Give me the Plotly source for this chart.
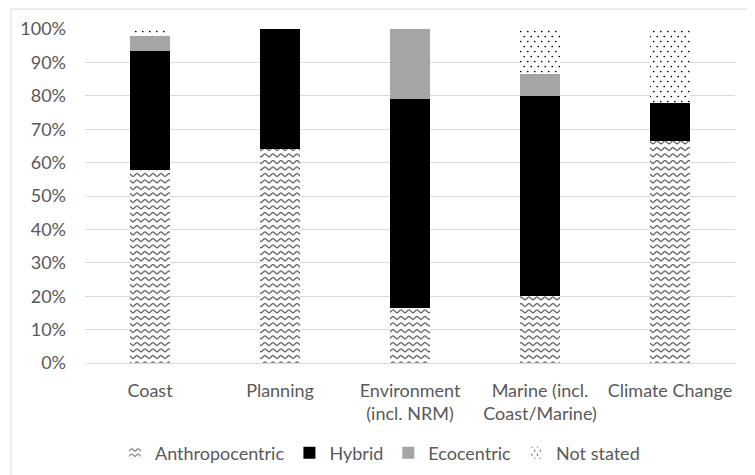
import plotly.graph_objects as go

categories = ["Coast", "Planning", "Environment<br>(incl. NRM)",
              "Marine (incl.<br>Coast/Marine)", "Climate Change"]
anthropocentric = [0.578, 0.640, 0.166, 0.200, 0.665]
hybrid = [0.357, 0.360, 0.625, 0.598, 0.113]
ecocentric = [0.045, 0.0, 0.209, 0.066, 0.0]
not_stated = [0.020, 0.0, 0.0, 0.136, 0.222]

FONT = "Lato"
TXT = "#595959"
FS = 18

fig = go.Figure()
fig.add_trace(go.Bar(
    x=categories, y=anthropocentric, name="Anthropocentric", uid="anthro",
    marker=dict(color="#ffffff", line=dict(width=0),
                pattern=dict(shape="-", fgcolor="#404040", bgcolor="#ffffff",
                             size=6, solidity=0.15)),
))
fig.add_trace(go.Bar(
    x=categories, y=hybrid, name="Hybrid", uid="hybrid",
    marker=dict(color="#000000", line=dict(width=0)),
))
fig.add_trace(go.Bar(
    x=categories, y=ecocentric, name="Ecocentric", uid="eco",
    marker=dict(color="#a5a5a5", line=dict(width=0)),
))
fig.add_trace(go.Bar(
    x=categories, y=not_stated, name="Not stated", uid="notstated",
    marker=dict(color="#ffffff", line=dict(width=0),
                pattern=dict(shape=".", fgcolor="#000000", bgcolor="#ffffff",
                             size=8, solidity=0.06)),
))

# page body has an 8px margin, so the figure is shifted by (8, 8)
OFF = 8
W, H = 755 - OFF, 475 - OFF
L, R, T, B = 85 - OFF, 20, 29 - OFF, 112
pw, ph = W - L - R, H - T - B


def px_x(x):
    return (x - OFF - L) / pw


def px_y(y):
    return (T + ph - (y - OFF)) / ph


fig.update_layout(
    width=W, height=H,
    margin=dict(l=L, r=R, t=T, b=B, autoexpand=False),
    barmode="stack", bargap=0.685,
    plot_bgcolor="#ffffff", paper_bgcolor="#ffffff",
    font=dict(family=FONT, size=FS, color=TXT),
    showlegend=True,
    legend=dict(orientation="h", x=px_x(380), xanchor="center",
                y=px_y(453), yanchor="middle",
                traceorder="normal", font=dict(family=FONT, size=FS, color=TXT),
                itemclick=False),
    xaxis=dict(showgrid=False, showline=False, ticks="", automargin=False,
               tickfont=dict(size=FS), ticklabelstandoff=15),
    yaxis=dict(range=[0, 1], dtick=0.1, tickformat=".0%", showgrid=True,
               gridcolor="#d9d9d9", gridwidth=1, zeroline=True,
               zerolinecolor="#d9d9d9", zerolinewidth=1, ticks="",
               automargin=False, ticklabelstandoff=18,
               tickfont=dict(size=FS), fixedrange=True),
    shapes=[dict(type="rect", xref="paper", yref="paper",
                 x0=px_x(11), x1=px_x(749),
                 y0=px_y(500), y1=px_y(9),
                 line=dict(color="#d9d9d9", width=1), fillcolor="rgba(0,0,0,0)",
                 layer="below")],
)

post = r"""
(function(){
  var ns = 'http://www.w3.org/2000/svg';
  function collect(uid, name) {
    var ids = {};
    document.querySelectorAll('pattern').forEach(function(p){
      if (new RegExp(uid + '$').test(p.id)) ids[p.id] = 1;
    });
    document.querySelectorAll('g.legend g.traces').forEach(function(t){
      var tx = t.querySelector('.legendtext');
      if (tx && tx.textContent.indexOf(name) === 0) {
        t.querySelectorAll('path').forEach(function(el){
          var m = (el.style.fill || '').match(/#([^'")]+)/); if (m) ids[m[1]] = 1;
        });
      }
    });
    return Object.keys(ids);
  }
  function mk(tag, attrs) {
    var e = document.createElementNS(ns, tag);
    for (var k in attrs) e.setAttribute(k, attrs[k]);
    return e;
  }
  collect('anthro', 'Anthropocentric').forEach(function(id){
    var p = document.getElementById(id); if (!p) return;
    p.setAttribute('width', '8'); p.setAttribute('height', '6.5');
    while (p.firstChild) p.removeChild(p.firstChild);
    p.appendChild(mk('rect', {width: 8, height: 6.5, fill: '#ffffff'}));
    p.appendChild(mk('path', {d: 'M0,4.5 C1.5,4.5 2.5,1.5 4,1.5 C5.5,1.5 6.5,4.5 8,4.5',
      stroke: '#3a3a3a', 'stroke-width': 1.1, fill: 'none'}));
  });
  collect('notstated', 'Not stated').forEach(function(id){
    var p = document.getElementById(id); if (!p) return;
    p.setAttribute('width', '7'); p.setAttribute('height', '10');
    while (p.firstChild) p.removeChild(p.firstChild);
    p.appendChild(mk('rect', {width: 7, height: 10, fill: '#ffffff'}));
    p.appendChild(mk('circle', {cx: 1.75, cy: 2.5, r: 0.85, fill: '#000000'}));
    p.appendChild(mk('circle', {cx: 5.25, cy: 7.5, r: 0.85, fill: '#000000'}));
  });
})();
"""

fig.write_html("out.html", post_script=post, config={"displayModeBar": False})
